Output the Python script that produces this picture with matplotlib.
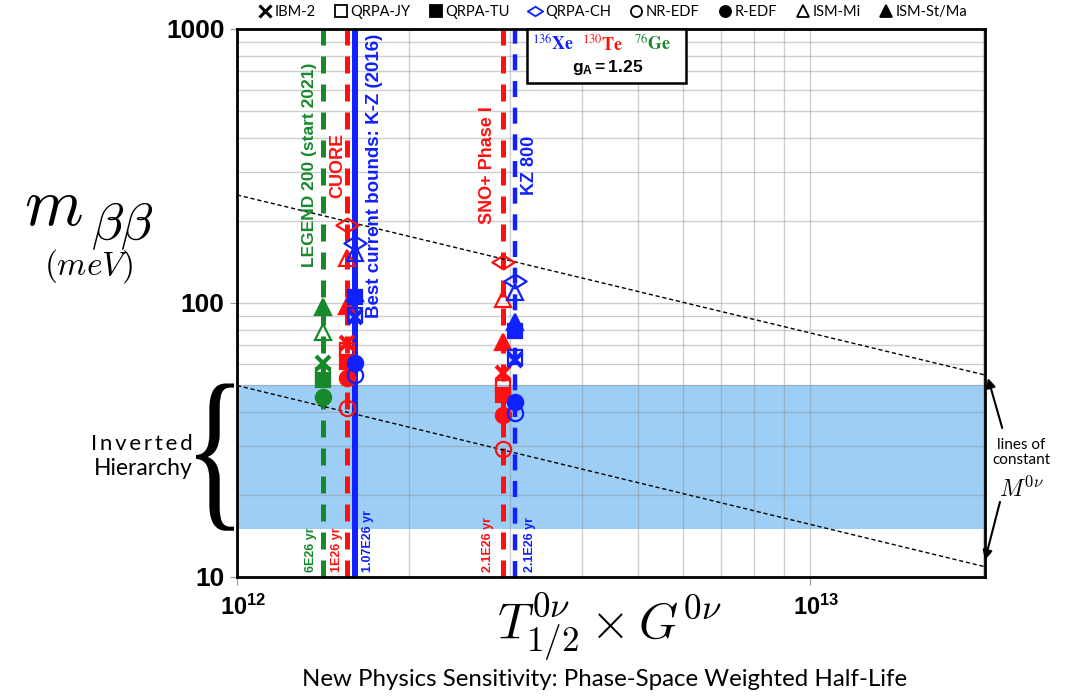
import numpy as np
import matplotlib
matplotlib.use("Agg")
import matplotlib.pyplot as plt
from matplotlib.lines import Line2D
from matplotlib.path import Path
from matplotlib.patches import PathPatch, Rectangle
from matplotlib.textpath import TextPath
from matplotlib.font_manager import FontProperties
from matplotlib.transforms import Affine2D, IdentityTransform
import matplotlib.ticker as mticker

plt.rcParams['mathtext.fontset'] = 'custom'
plt.rcParams['mathtext.rm'] = 'Liberation Sans'
plt.rcParams['mathtext.bf'] = 'Liberation Sans:bold'
plt.rcParams['mathtext.it'] = 'Liberation Sans:italic'

#%% DATA
# nuclear matrix element models, in legend order
models = ["IBM-2", "QRPA-JY", "QRPA-TU", "QRPA-CH", "NR-EDF", "R-EDF", "ISM-Mi", "ISM-St/Ma"]

# phase-space weighted half-life (T1/2 x G) reached by each experiment
tg_legend = 1.41e12   # 76Ge, LEGEND 200
tg_cuore = 1.556e12   # 130Te, CUORE
tg_kz = 1.607e12      # 136Xe, KamLAND-Zen 2016
tg_sno = 2.91e12      # 130Te, SNO+ phase I
tg_kz800 = 3.05e12    # 136Xe, KZ 800

# m_bb reach (meV) for each model at those sensitivities, nan = not drawn
m_ge_legend = [60.6, 54.6, 52.3, np.nan, np.nan, 45.4, 78.3, 96.6]
m_te_cuore = [71.4, 67.3, 60.9, 192, 41.4, 53.2, 146, 97.2]
m_xe_kz = [89, 90.3, 105, 166, 54.6, 60.4, 152, 109]
m_te_sno = [55.5, 49.4, 46, 141, 29.4, 38.9, 103, 72]
m_xe_kz800 = [62, 63.5, 79, 120, 39.6, 43.5, 110, 85]

# half-life labels at the foot of each line
hl_legend = "6E26 yr"
hl_cuore = "1E26 yr"
hl_kz = "1.07E26 yr"
hl_sno = "2.1E26 yr"
hl_kz800 = "2.1E26 yr"

# inverted hierarchy band (meV)
ih_low, ih_high = 15, 50

# lines of constant M0v (end points)
mline_x = [1e12, 2.02e13]
mline_upper = [248, 54.6]
mline_lower = [50, 10.9]

xlim = (1e12, 2.02e13)
ylim = (10, 1000)

#%% STYLES
green = '#17892b'
red = '#ff1010'
blue = '#1020ff'

diamond = Path([(-1, 0), (0, 0.62), (1, 0), (0, -0.62), (-1, 0)],
               [Path.MOVETO, Path.LINETO, Path.LINETO, Path.LINETO, Path.CLOSEPOLY])
model_marker = ['x', 's', 's', diamond, 'o', 'o', '^', '^']
model_filled = [True, False, True, False, False, True, False, True]
model_size = [10, 10, 10, 16, 11, 11, 11, 11]

#%% FIGURE
fig = plt.figure(figsize=(10.71, 6.97), dpi=100)
ax = fig.add_axes([237/1071, 120/697, 748/1071, 548/697])
ax.set_xscale('log')
ax.set_yscale('log')
ax.set_xlim(*xlim)
ax.set_ylim(*ylim)

ax.axhspan(ih_low, ih_high, color='#9dcff6', lw=0, zorder=1)
ax.set_axisbelow('line')
ax.grid(which='both', color='#8c8c8c', alpha=0.42, lw=1.0)

ax.plot(mline_x, mline_upper, color='black', ls=(0, (3, 2)), lw=1.0, zorder=2.5)
ax.plot(mline_x, mline_lower, color='black', ls=(0, (3, 2)), lw=1.0, zorder=2.5)

# experiment sensitivity lines
ax.axvline(tg_legend, color=green, lw=3.6, ls=(0, (3.4, 2.2)), zorder=2)
ax.axvline(tg_cuore, color=red, lw=3.6, ls=(0, (3.4, 2.2)), zorder=2)
ax.axvline(tg_kz, color=blue, lw=4.3, zorder=2.2)
ax.axvline(tg_sno, color=red, lw=3.6, ls=(0, (3.4, 2.2)), zorder=2)
ax.axvline(tg_kz800, color=blue, lw=3.2, ls=(0, (3.6, 2.4)), zorder=2)

def plotModels(tg, values, colour):
    for i in range(len(models)):
        v = values[i]
        if np.isnan(v):
            continue
        face = colour if model_filled[i] else 'none'
        mew = 3 if model_marker[i] == 'x' else 1.6
        ax.plot([tg], [v], ls='none', marker=model_marker[i], ms=model_size[i],
                mec=colour, mfc=face, mew=mew, zorder=3)

plotModels(tg_legend, m_ge_legend, green)
plotModels(tg_cuore, m_te_cuore, red)
plotModels(tg_kz, m_xe_kz, blue)
plotModels(tg_sno, m_te_sno, red)
plotModels(tg_kz800, m_xe_kz800, blue)

# rotated experiment names
name_kw = dict(textcoords='offset points', rotation=90, ha='center', va='center',
               fontweight='bold', family='Liberation Sans', zorder=4)
ax.annotate("LEGEND 200 (start 2021)", xy=(tg_legend, 319), xytext=(-9.5, 0), color=green,
            fontsize=12.5, **name_kw)
ax.annotate("CUORE", xy=(tg_cuore, 319), xytext=(-7, 0), color=red, fontsize=13, **name_kw)
ax.annotate("Best current bounds: K-Z (2016)", xy=(tg_kz, 291), xytext=(14, 0), color=blue,
            fontsize=13.5, **name_kw)
ax.annotate("SNO+ Phase I", xy=(tg_sno, 319), xytext=(-11, 0), color=red, fontsize=13, **name_kw)
ax.annotate("KZ 800", xy=(tg_kz800, 319), xytext=(11, 0), color=blue, fontsize=13, **name_kw)

hl_kw = dict(textcoords='offset points', rotation=90, ha='center', va='bottom',
             family='Liberation Sans', fontweight='bold', fontsize=9, zorder=4)
ax.annotate(hl_legend, xy=(tg_legend, 10.4), xytext=(-8, 0), color=green, **hl_kw)
ax.annotate(hl_cuore, xy=(tg_cuore, 10.4), xytext=(-7, 0), color=red, **hl_kw)
ax.annotate(hl_kz, xy=(tg_kz, 10.4), xytext=(9.5, 0), color=blue, **hl_kw)
ax.annotate(hl_sno, xy=(tg_sno, 10.4), xytext=(-11, 0), color=red, **hl_kw)
ax.annotate(hl_kz800, xy=(tg_kz800, 10.4), xytext=(11, 0), color=blue, **hl_kw)

# isotope key box
ax.add_patch(Rectangle((0.388, 0.901), 0.212, 0.099, transform=ax.transAxes,
                       facecolor='white', edgecolor='black', lw=1.8, zorder=5, clip_on=False))
iso_kw = dict(transform=ax.transAxes, ha='center', va='center', fontsize=13,
              math_fontfamily='stix', zorder=6)
ax.text(0.4225, 0.971, r'$^{136}\mathbf{Xe}$', color=blue, **iso_kw)
ax.text(0.489, 0.971, r'$^{130}\mathbf{Te}$', color=red, **iso_kw)
ax.text(0.556, 0.971, r'$^{76}\mathbf{Ge}$', color=green, **iso_kw)
ax.text(0.496, 0.929, r'$\mathbf{g_{A}=1.25}$', transform=ax.transAxes, ha='center', va='center',
        fontsize=12.5, zorder=6)

# axes and ticks
for s in ax.spines.values():
    s.set_linewidth(2)
ax.set_yticks([10, 100, 1000], ['10', '100', '1000'])
ax.yaxis.set_minor_formatter(mticker.NullFormatter())
ax.tick_params(axis='y', which='major', labelsize=19, length=5, color='#999999', pad=4)
for t in ax.get_yticklabels():
    t.set_family('Liberation Sans')
    t.set_fontweight('bold')
ax.set_xticks([1e12, 1e13], ['', ''])
ax.xaxis.set_minor_formatter(mticker.NullFormatter())
ax.tick_params(axis='x', which='major', length=6, color='#999999')
ax.tick_params(which='minor', length=0)
for xv, lab in [(1e12, r'$\mathbf{10^{12}}$'), (1e13, r'$\mathbf{10^{13}}$')]:
    ax.annotate(lab, xy=(xv, 0), xycoords=('data', 'axes fraction'), xytext=(-12, -13),
                textcoords='offset points', ha='left', va='top', fontsize=17)

# axis titles
fig.text(24/1071, 1 - 225/697, r'$m$', math_fontfamily='cm', fontsize=48,
         ha='left', va='baseline')
fig.text(91/1071, 1 - 240/697, r'$\beta\beta$', math_fontfamily='cm', fontsize=38,
         ha='left', va='baseline')
fig.text(88/1071, 1 - 275/697, r'$(meV)$', math_fontfamily='cm', fontsize=24,
         ha='center', va='baseline')
fig.text(609/1071, 1 - 640/697, r'$T^{0\nu}_{1/2}\times G^{0\nu}$', math_fontfamily='cm',
         fontsize=36, ha='center', va='baseline')
fig.text(605/1071, 1 - 686/697, "New Physics Sensitivity: Phase-Space Weighted Half-Life",
         family='Lato', fontsize=17.3, ha='center', va='baseline')

# inverted hierarchy brace
fig.text(193/1071, 1 - 450/697, "\u2009".join("Inverted"), family=['Lato', 'DejaVu Sans'],
         fontsize=16, ha='right', va='baseline')
fig.text(193/1071, 1 - 475/697, "Hierarchy", family='Lato', fontsize=16.5, ha='right',
         va='baseline')
tp = TextPath((0, 0), '{', size=100, prop=FontProperties(family='Liberation Serif'))
bb = tp.get_extents()
y_top = ax.transData.transform((xlim[0], ih_high))[1] + 2
y_bot = ax.transData.transform((xlim[0], ih_low))[1] - 2
x_right = ax.transAxes.transform((0, 0))[0] - 3
bw = 38
brace = Affine2D().translate(-bb.x0, -bb.y0).scale(bw / bb.width, (y_top - y_bot) / bb.height) \
    .translate(x_right - bw, y_bot)
fig.add_artist(PathPatch(brace.transform_path(tp), facecolor='black', lw=0,
                         transform=IdentityTransform()))

# lines of constant M0v note
ax.text(1.049, 0.228, "lines of\nconstant", transform=ax.transAxes, ha='center', va='center',
        family='Lato', fontsize=11, linespacing=1.1)
ax.text(1.049, 0.160, r'$M^{0\nu}$', transform=ax.transAxes, ha='center', va='center',
        math_fontfamily='cm', fontsize=17)
arrow_kw = dict(xycoords='axes fraction', textcoords='axes fraction',
                arrowprops=dict(arrowstyle='-|>', color='black', lw=1.5, mutation_scale=14,
                                shrinkA=0, shrinkB=0))
ax.annotate('', xy=(1.004, 0.363), xytext=(1.023, 0.272), **arrow_kw)
ax.annotate('', xy=(1.0, 0.031), xytext=(1.020, 0.137), **arrow_kw)

# model legend along the top
handles = []
for i in range(len(models)):
    c = blue if models[i] == "QRPA-CH" else 'black'
    handles.append(Line2D([], [], ls='none', marker=model_marker[i],
                          ms=8 if model_marker[i] != diamond else 11,
                          mec=c, mfc=c if model_filled[i] else 'none',
                          mew=2.2 if model_marker[i] == 'x' else 1.3))
fig.legend(handles, models, loc='center', bbox_to_anchor=(0.572, 0.983), ncol=8, frameon=False,
           prop=FontProperties(family='Lato', size=10.5), handlelength=0.9, handletextpad=0.2,
           columnspacing=1.3, borderaxespad=0)

fig.savefig("out.png", dpi=100)
